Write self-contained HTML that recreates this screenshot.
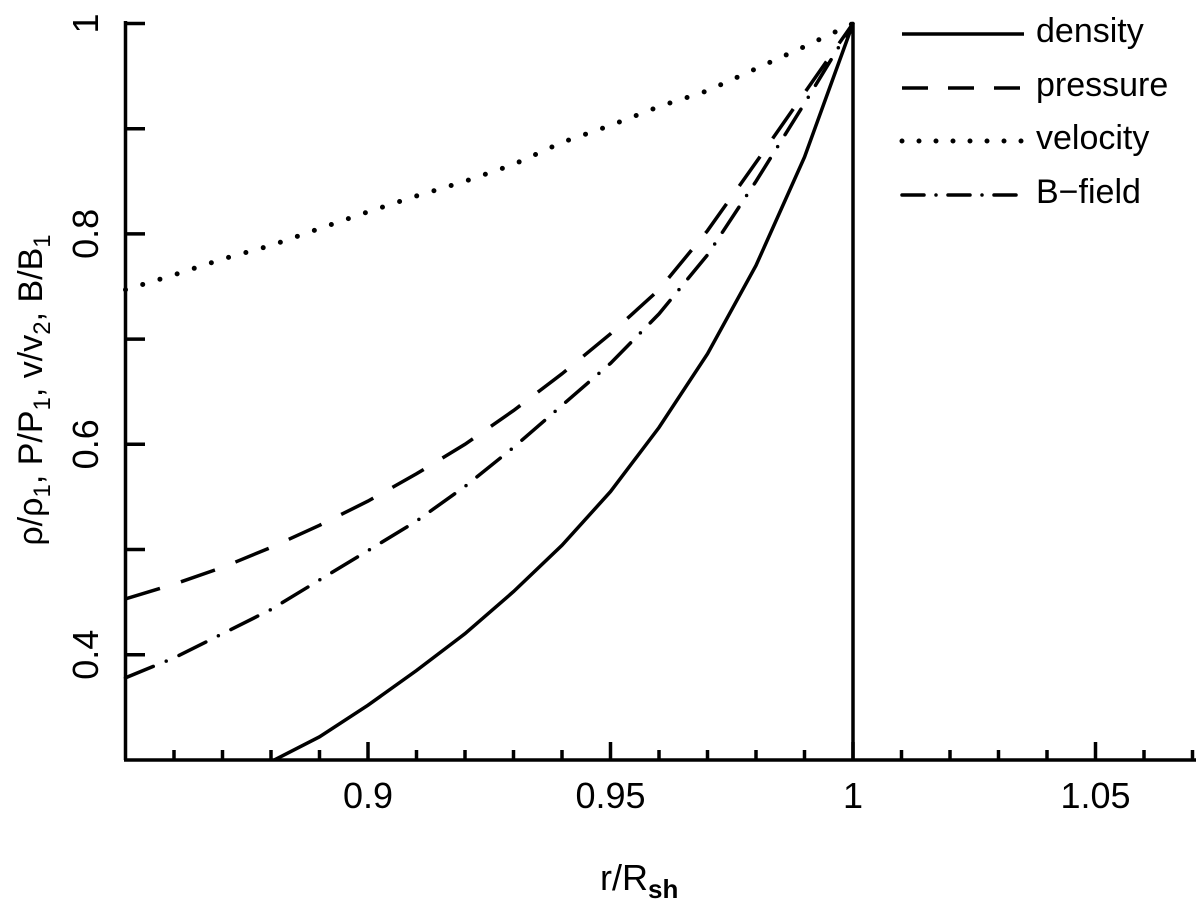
<!DOCTYPE html>
<html><head><meta charset="utf-8"><style>
html,body{margin:0;padding:0;background:#fff;}
svg{display:block;font-family:"Liberation Sans",sans-serif;}
</style></head><body>
<svg id="chart" width="1200" height="910" viewBox="0 0 1200 910" xmlns="http://www.w3.org/2000/svg">
<g id="axes"></g>
<g id="series"></g>
<text x="600" y="890" font-size="36">r/R<tspan font-size="26" dy="8" font-weight="bold">sh</tspan></text>
<text transform="translate(42,390) rotate(-90)" text-anchor="middle" font-size="34">ρ/ρ<tspan font-size="24" dy="8">1</tspan><tspan dy="-8">, P/P</tspan><tspan font-size="24" dy="8">1</tspan><tspan dy="-8">, v/v</tspan><tspan font-size="24" dy="8">2</tspan><tspan dy="-8">, B/B</tspan><tspan font-size="24" dy="8">1</tspan></text>
<g id="legend"></g>
</svg>
<script>
const xs = [0.85,0.86,0.87,0.88,0.89,0.90,0.91,0.92,0.93,0.94,0.95,0.96,0.97,0.98,0.99,1.00];
const velocity = [0.747,0.761,0.776,0.789,0.805,0.821,0.836,0.850,0.866,0.887,0.903,0.921,0.936,0.957,0.978,1.0];
const pressure = [0.453,0.467,0.483,0.502,0.523,0.546,0.572,0.600,0.632,0.667,0.705,0.747,0.803,0.868,0.934,1.0];
const bfield = [0.378,0.397,0.420,0.443,0.471,0.499,0.527,0.560,0.597,0.637,0.677,0.724,0.780,0.850,0.924,1.0];
const densityX = [0.8807,0.89,0.90,0.91,0.92,0.93,0.94,0.95,0.96,0.97,0.98,0.99,1.00,1.00];
const density = [0.30,0.322,0.352,0.385,0.420,0.460,0.504,0.555,0.616,0.686,0.770,0.873,1.0,0.30];
const xTickLabels = ["0.9","0.95","1","1.05"];
const xTickVals = [0.9,0.95,1.0,1.05];
const yTickLabels = ["0.4","0.6","0.8","1"];
const yTickVals = [0.4,0.6,0.8,1.0];

const X0=125.5, XPER=4850, Y0=23.5, YPER=1052;
const xs2px = v => X0 + (v-0.85)*XPER;
const ys2px = v => Y0 + (1-v)*YPER;
const NS="http://www.w3.org/2000/svg";
function mk(tag, attrs, parent){const e=document.createElementNS(NS,tag);for(const k in attrs)e.setAttribute(k,attrs[k]);parent.appendChild(e);return e;}
const axes=document.getElementById('axes');
const sw=3.5;
let a=mk('line',{x1:125.5,y1:21,x2:125.5,y2:760,stroke:'#000','stroke-width':sw},axes);


a=mk('line',{x1:124,y1:760,x2:1196,y2:760,stroke:'#000','stroke-width':sw},axes);


for(let i=0;i<=22;i++){
  const v=0.85+i*0.01; if(i===0) continue;
  const major = (i%5===0);
  const px=xs2px(v);
  const t=mk('line',{x1:px,y1:760,x2:px,y2:major?742:750,stroke:'#000','stroke-width':sw},axes);
  
  
}
xTickVals.forEach((v,i)=>{
  const t=mk('text',{x:xs2px(v),y:808,'text-anchor':'middle','font-size':36},axes);
  t.textContent=xTickLabels[i];
  
  
});
for(let i=0;i<7;i++){
  const v=0.4+i*0.1;
  const py=ys2px(v);
  const t=mk('line',{x1:125.5,y1:py,x2:145,y2:py,stroke:'#000','stroke-width':sw},axes);
  
  
}
yTickVals.forEach((v,i)=>{
  const py=ys2px(v);
  const t=mk('text',{transform:`translate(98,${py}) rotate(-90)`,'text-anchor':'middle','font-size':36},axes);
  t.textContent=yTickLabels[i];
  
  
});
const ser=document.getElementById('series');
function path(xv,yv){return xv.map((x,i)=>(i?'L':'M')+xs2px(x).toFixed(1)+','+ys2px(yv[i]).toFixed(1)).join(' ');}
const styles={
  density:{dash:'',lc:'butt'},
  pressure:{dash:'36 22',lc:'butt'},
  velocity:{dash:'0 18',lc:'round'},
  bfield:{dash:'30 14 0 14',lc:'round'}
};
let p=mk('path',{d:path(densityX,density),fill:'none',stroke:'#000','stroke-width':sw},ser);


p=mk('path',{d:path(xs,pressure),fill:'none',stroke:'#000','stroke-width':sw,'stroke-dasharray':styles.pressure.dash},ser);


p=mk('path',{d:path(xs,velocity),fill:'none',stroke:'#000','stroke-width':5,'stroke-dasharray':styles.velocity.dash,'stroke-linecap':'round'},ser);


p=mk('path',{d:path(xs,bfield),fill:'none',stroke:'#000','stroke-width':sw,'stroke-dasharray':styles.bfield.dash,'stroke-linecap':'round'},ser);



const leg=document.getElementById('legend');
const names=['density','pressure','velocity','B\u2212field'];
const legDash=['','26 20','0 17','22 12 0 12'];
const rows=[34,88,141,195];
names.forEach((n,i)=>{
  const l=mk('line',{x1:902,y1:rows[i],x2:1024,y2:rows[i],stroke:'#000','stroke-width':i===2?5:sw,'stroke-dasharray':legDash[i],'stroke-linecap':(i>=2?'round':'butt')},leg);
  
  
  const t=mk('text',{x:1036,y:rows[i]+8,'font-size':34},leg);
  t.textContent=n;
  
  
});
</script>
</body></html>
